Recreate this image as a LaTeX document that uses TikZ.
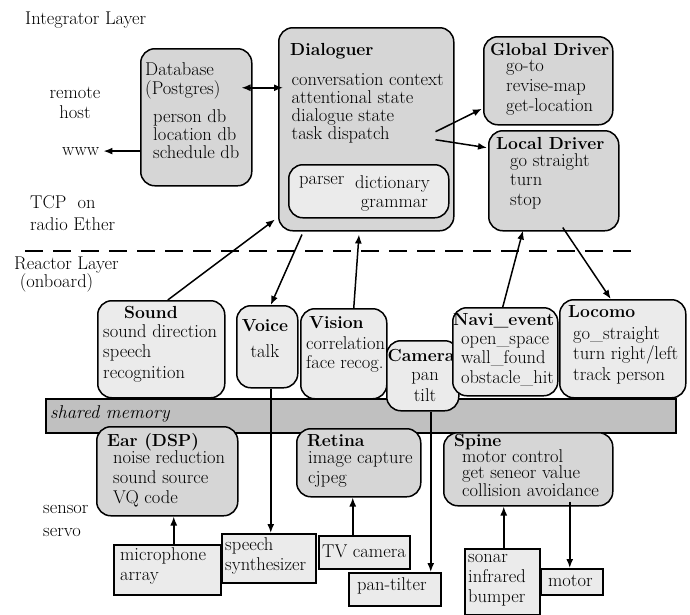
\documentclass[tikz,border=0pt]{standalone}
\usetikzlibrary{arrows.meta}
\definecolor{dkgray}{RGB}{214,214,214}
\definecolor{ltgray}{RGB}{235,235,235}
\definecolor{bargray}{RGB}{192,192,192}
\newcommand\bft{\fontsize{17.5}{20}\selectfont\bfseries}
\begin{document}
\begin{tikzpicture}[x=1pt,y=-1pt,
  dk/.style={draw, line width=1.5pt, fill=dkgray, rounded corners=14pt, inner sep=0pt, anchor=north west},
  lt/.style={dk, fill=ltgray},
  sq/.style={draw, line width=1.5pt, fill=ltgray, inner sep=0pt, anchor=north west},
  tx/.style={inner sep=0pt, align=left, anchor=base west, font=\fontsize{18.5}{20}\selectfont},
  txc/.style={tx, align=center, anchor=base},
  ls/.style={font=\fontsize{18.5}{#1}\selectfont},
  arr/.style={line width=1.5pt, -{Latex[length=9pt,width=7pt]}},
  darr/.style={line width=1.5pt, {Latex[length=9pt,width=7pt]}-{Latex[length=9pt,width=7pt]}},
  sep/.style={line width=1.3pt, dash pattern=on 18pt off 10pt}
]
\useasboundingbox (0,0) rectangle (690,614);

% ---------- Integrator layer ----------
\node[tx] (til) at (25,24) {Integrator Layer};
\node[txc, ls=20] (trh) at (75,118) {remote\\host};
\node[tx] (www) at (62,155) {www};
\node[tx, ls=22] (ttcp) at (30,230) {TCP\ \ on\\radio Ether};

\node[dk, minimum width=111pt, minimum height=137pt] (db) at (140,48) {};
\node[tx, ls=19] (tdb1) at (145,94) {Database\\(Postgres)};
\node[tx, ls=18] (tdb2) at (153,158) {person db\\location db\\schedule db};

\node[dk, minimum width=175pt, minimum height=203pt] (dlg) at (278,27) {};
\node[tx] (tdlg1) at (290,55) {\bft Dialoguer};
\node[tx, ls=18] (tdlg2) at (291.5,139) {conversation context\\attentional state\\dialogue state\\task dispatch};
\node[lt, minimum width=160pt, minimum height=53pt] (prs) at (288,164) {};
\node[tx] (tprs1) at (299,184) {parser};
\node[tx, ls=19] (tprs2) at (355,207) {dictionary\\\ grammar};

\node[dk, minimum width=129pt, minimum height=88pt] (gd) at (483,36) {};
\node[tx] (tgd1) at (490,55) {\bft Global Driver};
\node[tx, ls=20] (tgd2) at (506,111) {go-to\\revise-map\\get-location};

\node[dk, minimum width=130pt, minimum height=100pt] (ld) at (488,130) {};
\node[tx] (tld1) at (496,149) {\bft Local Driver};
\node[tx, ls=19.5] (tld2) at (510,205) {go straight\\turn\\stop};

% separator
\coordinate (sepL) at (25,251);
\coordinate (sepR) at (637,251);
\draw[sep] (sepL) -- (sepR);

\node[tx, ls=18] (trl) at (14,287) {Reactor Layer\\\ (onboard)};

% ---------- shared memory ----------
\node[draw, line width=1.5pt, fill=bargray, minimum width=630pt, minimum height=34pt, inner sep=0pt, anchor=north west] (bar) at (45,398) {};
\node[tx] (tbar) at (50,418) {\itshape shared memory};

% ---------- Reactor layer ----------
\node[lt, minimum width=127pt, minimum height=97pt] (snd) at (97,300) {};
\node[txc] (tsnd1) at (151,318) {\bft Sound};
\node[tx, ls=20.5] (tsnd2) at (103,378) {sound direction\\speech\\recognition};

\node[lt, minimum width=61pt, minimum height=82pt] (voi) at (236,305) {};
\node[txc] (tvoi1) at (265,331) {\bft Voice};
\node[txc] (tvoi2) at (265,357) {talk};

\node[lt, minimum width=86pt, minimum height=90pt] (vis) at (300,308) {};
\node[tx] (tvis1) at (309,328) {\bft Vision};
\node[tx, ls=19] (tvis2) at (306,368) {correlation\\face recog.};

\node[lt, minimum width=72pt, minimum height=70pt] (cam) at (386,340) {};
\node[txc] (tcam1) at (421,361) {\bft Camera};
\node[txc, ls=21] (tcam2) at (425,401) {pan\\tilt};

\node[lt, minimum width=105pt, minimum height=88pt] (nav) at (452,307) {};
\node[tx] (tnav1) at (453,325) {\bft Navi\_event};
\node[tx, ls=19.5] (tnav2) at (461,383) {open\_space\\wall\_found\\obstacle\_hit};

\node[lt, minimum width=126pt, minimum height=98pt] (loc) at (559,299) {};
\node[tx] (tloc1) at (568,317) {\bft Locomo};
\node[tx, ls=20.5] (tloc2) at (573,380) {go\_straight\\turn right/left\\track person};

% ---------- Sensor / servo ----------
\node[dk, minimum width=141pt, minimum height=89pt] (ear) at (96,426) {};
\node[tx] (tear1) at (107,446) {\bft Ear (DSP)};
\node[tx, ls=20] (tear2) at (113,503) {noise reduction\\sound source\\VQ code};

\node[dk, minimum width=124pt, minimum height=68pt] (ret) at (296,428) {};
\node[tx] (tret1) at (307,446) {\bft Retina};
\node[tx, ls=20] (tret2) at (308,483) {image capture\\cjpeg};

\node[dk, minimum width=169pt, minimum height=73pt] (spi) at (443,432) {};
\node[tx] (tspi1) at (454,446) {\bft Spine};
\node[tx, ls=16] (tspi2) at (462,496) {motor control\\get seneor value\\collision avoidance};

\node[tx, ls=23] (tss) at (43,536) {sensor\\servo};

\node[sq, minimum width=107pt, minimum height=50pt] (mic) at (113,544) {};
\node[tx, ls=20] (tmic) at (120,580) {microphone\\array};

\node[sq, minimum width=94pt, minimum height=49pt] (sp) at (221,533) {};
\node[tx, ls=20] (tsp) at (225,570) {speech\\synthesizer};

\node[sq, minimum width=91pt, minimum height=33pt] (tv) at (318,535) {};
\node[tx] (ttv) at (322,557) {TV camera};

\node[sq, minimum width=92pt, minimum height=33pt] (pt) at (348,572) {};
\node[tx] (tpt) at (357,590) {pan-tilter};

\node[sq, minimum width=75pt, minimum height=66pt] (son) at (464,548) {};
\node[tx, ls=20] (tson) at (468,602) {sonar\\infrared\\bumper};

\node[sq, minimum width=62pt, minimum height=26pt] (mot) at (540,568) {};
\node[tx] (tmot) at (548,586) {motor};

% ---------- connectors ----------
\draw[arr] (db.west |- www.center) -- ([xshift=4pt]www.east);
\draw[darr] ([xshift=-11pt,yshift=29.5pt]db.east) -- ([xshift=5pt,yshift=41.5pt]dlg.west);
\draw[arr] ([xshift=-19pt,yshift=-2.5pt]dlg.east) -- ([xshift=-1pt,yshift=-28pt]gd.west);
\draw[arr] ([xshift=-19pt,yshift=-10.5pt]dlg.east) -- ([xshift=-1pt,yshift=33pt]ld.west);

\draw[arr] ([xshift=6.5pt]snd.north) -- ([xshift=-3pt,yshift=12pt]dlg.south west);
\draw[arr] ([xshift=24pt,yshift=-3pt]dlg.south west) -- ([xshift=3.5pt]voi.north);
\draw[arr] ([xshift=10pt]vis.north) -- ([xshift=81pt,yshift=-3pt]dlg.south west);
\draw[arr] ([xshift=-2.5pt]nav.north) -- ([xshift=35pt,yshift=1pt]ld.south west);
\draw[arr] ([xshift=9pt,yshift=4pt]ld.south) -- ([xshift=-12pt]loc.north);

\draw[arr] ([xshift=6.5pt]mic.north) -- ([xshift=6.5pt]ear.south);
\draw[arr] ([xshift=3.5pt]voi.south) -- ([xshift=3.5pt]voi.south |- sp.north);
\draw[arr] ([xshift=-11.5pt]tv.north) -- ([xshift=-11.5pt]tv.north |- ret.south);
\draw[arr] ([xshift=8pt]cam.south) -- ([xshift=8pt]cam.south |- pt.north);
\draw[arr] ([xshift=1.5pt]son.north) -- ([xshift=1.5pt]son.north |- spi.south);
\draw[arr] ([xshift=-2pt,yshift=5pt]mot.north |- spi.south) -- ([xshift=-2pt]mot.north);
\end{tikzpicture}
\end{document}
